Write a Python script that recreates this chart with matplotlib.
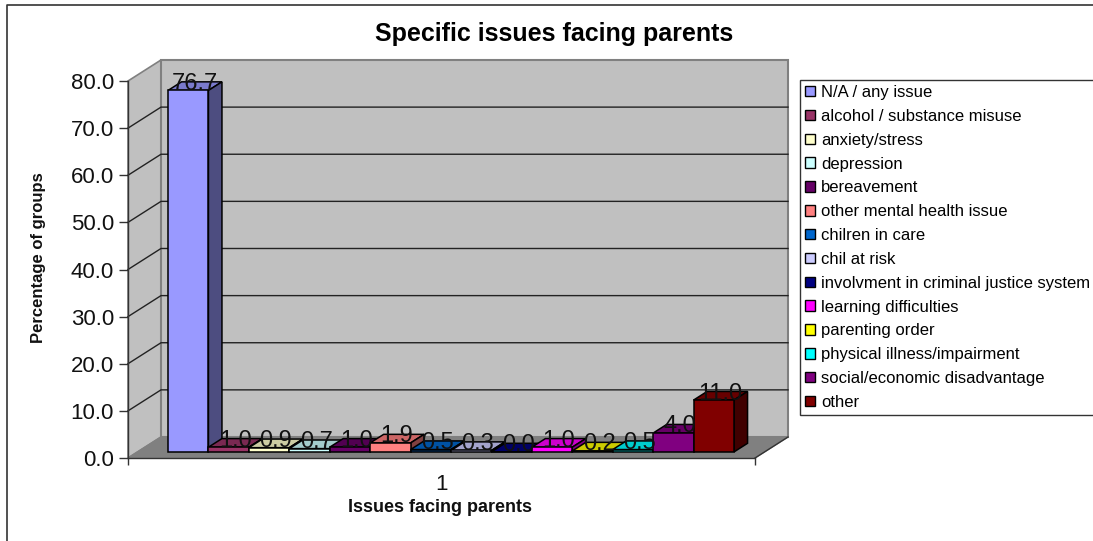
import matplotlib
matplotlib.use('Agg')
import matplotlib.pyplot as plt
from matplotlib.patches import Polygon, Rectangle
from matplotlib.lines import Line2D

plt.rcParams['font.family'] = ['Liberation Sans', 'DejaVu Sans']

issues = ['N/A / any issue', 'alcohol / substance misuse', 'anxiety/stress', 'depression',
          'bereavement', 'other mental health issue', 'chilren in care', 'chil at risk',
          'involvment in criminal justice system', 'learning difficulties', 'parenting order',
          'physical illness/impairment', 'social/economic disadvantage', 'other']
values = [76.7, 1.0, 0.9, 0.7, 1.0, 1.9, 0.5, 0.3, 0.0, 1.0, 0.2, 0.5, 4.0, 11.0]
colors = ['#9999ff', '#993366', '#ffffcc', '#ccffff', '#660066', '#ff8080', '#0066cc', '#ccccff',
          '#000080', '#ff00ff', '#ffff00', '#00ffff', '#800080', '#800000']
y_ticks = [0, 10, 20, 30, 40, 50, 60, 70, 80]

W, H = 1093, 541
px_x = 40.43   # pixels per category
px_y = 4.71    # pixels per percent
wall_dx, wall_dy = 33 / px_x, 21 / px_y
d_front, d_back = 0.29, 0.70


def shade(c, f):
    r, g, b = matplotlib.colors.to_rgb(c)
    return (r * f, g * f, b * f)


def pr(x, v, d):
    # oblique projection, d=0 front of the floor, d=1 back wall
    return (x + d * wall_dx, v + d * wall_dy)


fig = plt.figure(figsize=(W / 100, H / 100), dpi=100)
ax = fig.add_axes([128 / W, 1 - 458 / H, (755 - 128) / W, (458 - 81) / H])
xmin = d_front * wall_dx - (168 - 128) / px_x
xmax = xmin + (755 - 128) / px_x
ax.set_xlim(xmin, xmax)
ax.set_ylim(0, 80)
ax.patch.set_visible(False)
for s in ['top', 'right']:
    ax.spines[s].set_visible(False)
for s in ['left', 'bottom']:
    ax.spines[s].set_linewidth(1)
    ax.spines[s].set_color('#333333')

ax.set_yticks(y_ticks)
ax.set_yticklabels(['%.1f' % t for t in y_ticks], fontsize=16, color='#111111')
ax.tick_params(axis='y', length=6.5, width=1, color='#333333', pad=3.5)
ax.set_xticks([xmin, xmax])
ax.set_xticklabels(['', ''])
ax.tick_params(axis='x', which='major', length=5, width=1, color='#333333')
ax.set_xticks([(xmin + xmax) / 2], minor=True)
ax.set_xticklabels(['1'], minor=True, fontsize=16, color='#111111')
ax.tick_params(axis='x', which='minor', length=0, pad=11.5)

# walls and floor
wall = '#c0c0c0'
edge = '#808080'
ax.add_patch(Polygon([pr(xmin, 0, 0), pr(xmin, 80, 0), pr(xmin, 80, 1), pr(xmin, 0, 1)],
                     fc=wall, ec=edge, lw=1.2, clip_on=False, zorder=1))
ax.add_patch(Polygon([pr(xmin, 0, 1), pr(xmin, 80, 1), pr(xmax, 80, 1), pr(xmax, 0, 1)],
                     fc=wall, ec=edge, lw=1.5, clip_on=False, zorder=1))
ax.add_patch(Polygon([pr(xmin, 0, 0), pr(xmax, 0, 0), pr(xmax, 0, 1), pr(xmin, 0, 1)],
                     fc='#808080', ec='#808080', lw=1, clip_on=False, zorder=1))
for t in y_ticks[1:-1]:
    ax.plot([pr(xmin, t, 0)[0], pr(xmin, t, 1)[0], pr(xmax, t, 1)[0]],
            [pr(xmin, t, 0)[1], pr(xmin, t, 1)[1], pr(xmax, t, 1)[1]],
            color='#222222', lw=1, clip_on=False, zorder=2)
ax.plot([pr(xmax, 0, 0)[0], pr(xmax, 0, 1)[0]], [0, wall_dy], color='#333333', lw=1,
        clip_on=False, zorder=2)

# bars
for i, (v, c) in enumerate(zip(values, colors)):
    z = 3 + i * 0.01
    ax.add_patch(Polygon([pr(i, v, d_front), pr(i + 1, v, d_front), pr(i + 1, v, d_back), pr(i, v, d_back)],
                         fc=shade(c, 0.8), ec='black', lw=1.1, clip_on=False, zorder=z))
    ax.add_patch(Polygon([pr(i + 1, 0, d_front), pr(i + 1, v, d_front), pr(i + 1, v, d_back), pr(i + 1, 0, d_back)],
                         fc=shade(c, 0.5), ec='black', lw=1.1, clip_on=False, zorder=z))
    ax.add_patch(Polygon([pr(i, 0, d_front), pr(i + 1, 0, d_front), pr(i + 1, v, d_front), pr(i, v, d_front)],
                         fc=c, ec='black', lw=1.1, clip_on=False, zorder=z))

for i, v in enumerate(values):
    lx, ly = pr(i + 0.5, v, 0.49)
    ax.text(lx, ly + 0.5, '%.1f' % v, ha='center', va='center', fontsize=17, color='#111111',
            clip_on=False, zorder=5)

ylab = ax.set_ylabel('Percentage of groups', fontsize=12, fontweight='bold', color='#111111', va='center')
ax.yaxis.set_label_coords((39 - 128) / (755 - 128), (458 - 258) / (458 - 81))
xlab = ax.set_xlabel('Issues facing parents', fontsize=13, fontweight='bold', color='#111111', va='center')
ax.xaxis.set_label_coords((440 - 128) / (755 - 128), (458 - 507) / (458 - 81))

fig.text(554 / W, 1 - 34 / H, 'Specific issues facing parents', ha='center', va='center',
         fontsize=18, fontweight='bold', color='black')

# legend, cut off by the right edge of the image like the original
handles = [Rectangle((0, 0), 1, 1, fc=c, ec='black', lw=1) for c in colors]
leg = fig.legend(handles, issues, loc='upper left', bbox_to_anchor=(800 / W, 1 - 80 / H),
                 bbox_transform=fig.transFigure, fontsize=12, frameon=True, fancybox=False,
                 edgecolor='#333333', framealpha=1, handlelength=0.6, handleheight=0.6,
                 handletextpad=0.36, labelspacing=0.53, borderaxespad=0, borderpad=0.3)

# chart area border
fig.add_artist(Line2D([7 / W, 7 / W, 1], [0, 1 - 5 / H, 1 - 5 / H], color='#333333', lw=1.2))
fig.savefig('out.png', dpi=100)
